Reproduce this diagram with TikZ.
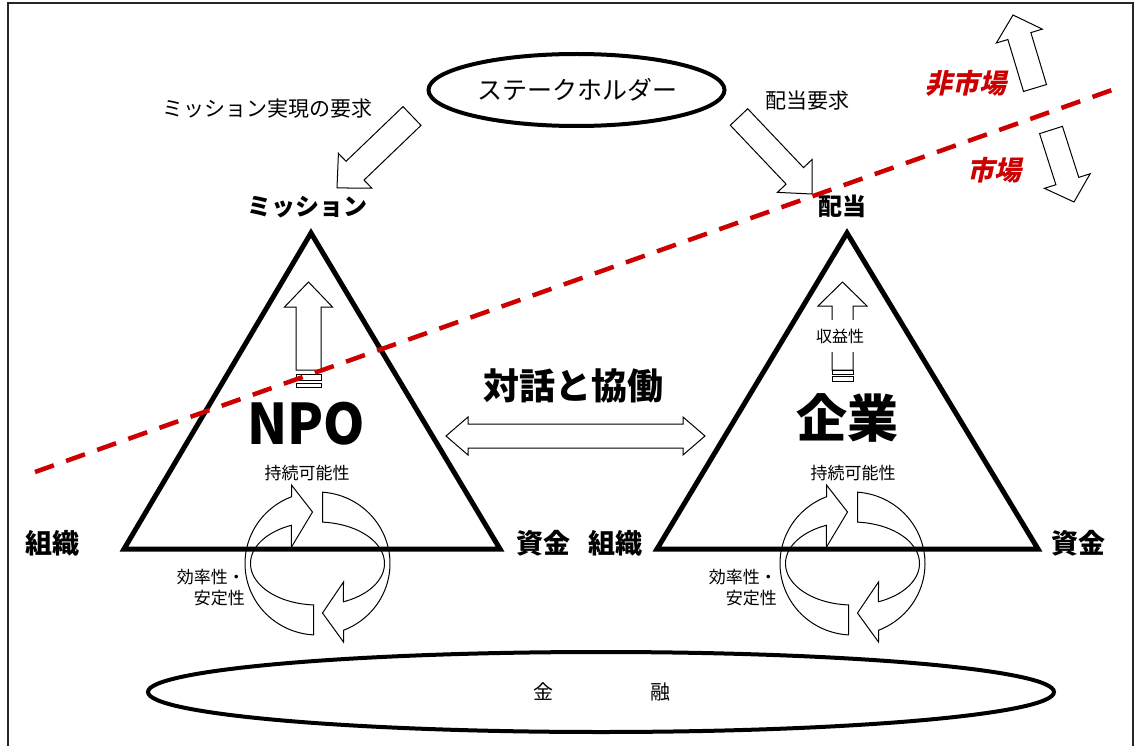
\documentclass[tikz,border=0pt]{standalone}
\usepackage{fontspec}
\usepackage{graphicx}
\usetikzlibrary{calc}
\newfontfamily\jp{Noto Sans CJK JP}
\newfontfamily\jpsl{Noto Sans CJK JP}[FakeSlant=0.22]
\definecolor{mred}{RGB}{204,0,0}
\newcommand\fsz[1]{\fontsize{#1}{#1}\selectfont}
% block arrow: start coord, end coord, shaft half width, head half width, head length
\newcommand\blockarrow[5]{%
  \coordinate (#1-#2-b) at ($(#2)!#5!(#1)$);
  \draw[outl] ($(#1)!#3!90:(#2)$) -- ($(#1-#2-b)!#3!90:(#2)$) -- ($(#1-#2-b)!#4!90:(#2)$) -- (#2)
     -- ($(#1-#2-b)!#4!-90:(#2)$) -- ($(#1-#2-b)!#3!-90:(#2)$) -- ($(#1)!#3!-90:(#2)$) -- cycle;}
% pair of circular arrows around a centre coordinate
\newcommand\cyclepair[1]{%
  \begin{scope}[shift={(#1)}]
    \draw[outl] plot[domain=93:249,samples=60] ({72.5*cos(\x)},{71.5*sin(\x)}) -- (-26,-78.5) -- (-5,-51.5) -- (-26,-16.5)
       -- plot[domain=247:93.4,samples=60] ({67*cos(\x)},{41.5*sin(\x)}) -- cycle;
    \draw[outl] plot[domain=274:428.8,samples=60] ({72.5*cos(\x)},{71.5*sin(\x)}) -- (26,78.5) -- (5,49.5) -- (26,18.5)
       -- plot[domain=427.2:274.3,samples=60] ({67*cos(\x)},{41.5*sin(\x)}) -- cycle;
  \end{scope}}
\tikzset{
  outl/.style={draw=black, line width=1pt, line join=miter},
  tri/.style={draw=black, line width=5pt, line join=miter},
  oval/.style={draw=black, line width=4pt},
  lbl/.style={inner sep=0pt, font=\jp\fsz{21}},
  small/.style={inner sep=0pt, font=\jp\fsz{17}},
  twoline/.style={inner sep=0pt, align=right, anchor=east, font={\jp\fontsize{17}{21}\selectfont}},
  blbl/.style={inner sep=0pt, font=\jp\bfseries\fsz{24}},
  corner/.style={inner sep=0pt, font=\jp\bfseries\fsz{27}},
  redlbl/.style={inner sep=0pt, text=mred, font=\jpsl\bfseries\fsz{27}},
  reddash/.style={draw=mred, line width=4.5pt, dash pattern=on 20pt off 13pt},
  bar/.style={draw=black, line width=1pt, fill=white},
}
\begin{document}
\begin{tikzpicture}[x=1pt,y=-1pt]
\useasboundingbox (0,0) rectangle (1137,746);
\fill[white] (0,0) rectangle (1137,746);
\draw[line width=1.5pt, black!85] (8,746) -- (8,3) -- (1133,3) -- (1133,746);

% stakeholder ellipse
\draw[oval] (576.5,90) ellipse [x radius=148, y radius=36];
\node[lbl, font=\jp\fsz{25}] (sh) at (577,90) {ステークホルダー};

\node[lbl] (req1) at (267,109) {ミッション実現の要求};
\node[lbl] (req2) at (807,101) {配当要求};

% top block arrows
\coordinate (a1s) at (412,116); \coordinate (a1e) at (337,188);
\blockarrow{a1s}{a1e}{13pt}{24pt}{25pt}
\coordinate (a2s) at (739,117); \coordinate (a2e) at (812,194);
\blockarrow{a2s}{a2e}{12pt}{24pt}{25pt}

% market / non-market arrows
\coordinate (u1s) at (1035,88); \coordinate (u1e) at (1013,15);
\blockarrow{u1s}{u1e}{12pt}{24pt}{22pt}
\coordinate (u2s) at (1051,130); \coordinate (u2e) at (1074,202);
\blockarrow{u2s}{u2e}{12pt}{24pt}{22pt}
\node[redlbl] (nm) at (966,83) {非市場};
\node[redlbl] (mk) at (994,170) {市場};

% triangles
\coordinate (nT) at (311,233); \coordinate (nL) at (124,549); \coordinate (nR) at (500,549);
\coordinate (cT) at (847,233); \coordinate (cL) at (657,549); \coordinate (cR) at (1038,549);
\draw[tri] (nT) -- (nL) -- (nR) -- cycle;
\draw[tri] (cT) -- (cL) -- (cR) -- cycle;

\node[blbl] (mis) at (307,207) {ミッション};
\node[blbl] (div) at (842,206) {配当};
\node[corner] (o1) at (52,543) {組織};
\node[corner] (f1) at (543,543) {資金};
\node[corner] (o2) at (615,543) {組織};
\node[corner] (f2) at (1078,543) {資金};

% NPO up arrow with bars
\coordinate (n1s) at (308.5,370); \coordinate (n1e) at (308.5,282);
\blockarrow{n1s}{n1e}{12.5pt}{24pt}{25pt}
\draw[bar] (296,374) rectangle (321,380);
\draw[bar] (296,383) rectangle (321,387);

% company up arrow with bars
\coordinate (c1s) at (842.5,370); \coordinate (c1e) at (842.5,282);
\blockarrow{c1s}{c1e}{10.5pt}{24.5pt}{24pt}
\draw[bar] (832,370) rectangle (853,374);
\draw[bar] (832,376) rectangle (853,381);
\node[small, font=\jp\fsz{16}, fill=white, inner xsep=2pt, inner ysep=9pt] (prof) at (840,336) {収益性};

% big labels
\node[inner sep=0pt, font=\jp\bfseries\fsz{56}] (npo) at (306,424) {\scalebox{0.94}[1]{NPO}};
\node[inner sep=0pt, font=\jp\bfseries\fsz{51}] (ent) at (847.5,418) {企業};
\node[inner sep=0pt, font=\jp\bfseries\fsz{36}] (dlg) at (573,386) {対話と協働};

% double arrow
\coordinate (dl) at (446,436); \coordinate (dr) at (705,436);
\draw[outl] (dl) -- ++(22,-19) -- ++(0,7) -- ($(dr)+(-22,-12)$) -- ++(0,-7) -- (dr)
  -- ++(-22,19) -- ++(0,-7) -- ($(dl)+(22,12)$) -- ++(0,7) -- cycle;

% sustainability labels and cycles
\node[small] (s1) at (307,473) {持続可能性};
\node[small] (s2) at (853,473) {持続可能性};
\coordinate (cy1) at (317.5,563.5);
\coordinate (cy2) at (852.5,563.5);
\cyclepair{cy1}
\cyclepair{cy2}
\node[twoline] (e1) at (245,588) {効率性・\\安定性};
\node[twoline] (e2) at (777,588) {効率性・\\安定性};

% finance ellipse
\draw[oval] (601,692) ellipse [x radius=453, y radius=40];
\node[lbl, font=\jp\fsz{20}] (fin1) at (543,692) {金};
\node[lbl, font=\jp\fsz{20}] (fin2) at (660,692) {融};

% red dashed boundary
\coordinate (d1) at (35,472); \coordinate (d2) at (1112,90);
\draw[reddash] (d1) -- (d2);
\end{tikzpicture}
\end{document}
